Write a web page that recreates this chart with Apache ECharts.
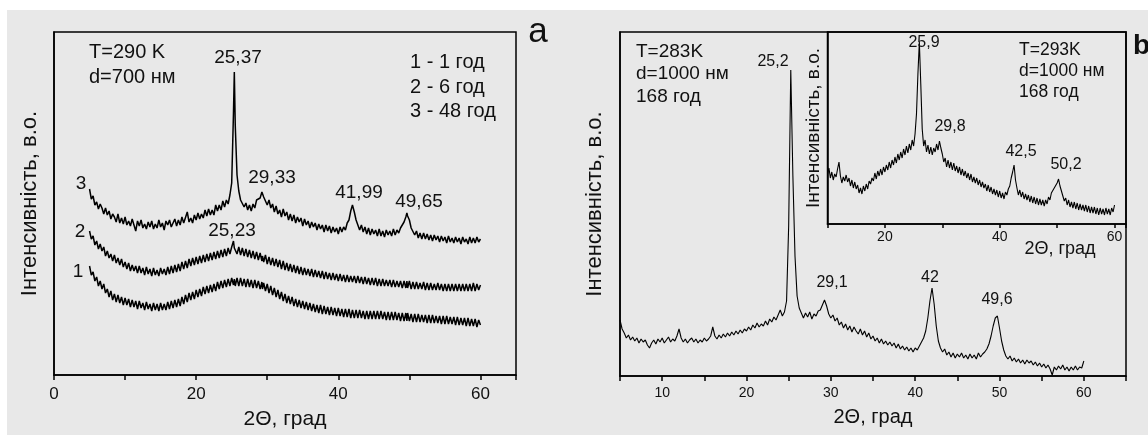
<!DOCTYPE html>
<html><head><meta charset="utf-8">
<script src="https://cdn.jsdelivr.net/npm/echarts@6/dist/echarts.min.js"></script>
<style>html,body{margin:0;padding:0;background:#fff;}#c{width:1148px;height:435px;}</style>
</head><body><div id="c"></div>
<script>
// ---------- panel a: three XRD curves (arbitrary intensity units) ----------
const aX = [5,5.25,5.5,5.75,6,6.25,6.5,6.75,7,7.25,7.5,7.75,8,8.25,8.5,8.75,9,9.25,9.5,9.75,10,10.25,10.5,10.75,11,11.25,11.5,11.75,12,12.25,12.5,12.75,13,13.25,13.5,13.75,14,14.25,14.5,14.75,15,15.25,15.5,15.75,16,16.25,16.5,16.75,17,17.25,17.5,17.75,18,18.25,18.5,18.75,19,19.25,19.5,19.75,20,20.25,20.5,20.75,21,21.25,21.5,21.75,22,22.25,22.5,22.75,23,23.25,23.5,23.75,24,24.25,24.5,24.75,25,25.25,
  25.37,
  25.5,25.75,26,26.25,26.5,26.75,27,27.25,27.5,27.75,28,28.25,28.5,28.75,29,29.25,
  29.33,
  29.5,29.75,30,30.25,30.5,30.75,31,31.25,31.5,31.75,32,32.25,32.5,32.75,33,33.25,33.5,33.75,34,34.25,34.5,34.75,35,35.25,35.5,35.75,36,36.25,36.5,36.75,37,37.25,37.5,37.75,38,38.25,38.5,38.75,39,39.25,39.5,39.75,40,40.25,40.5,40.75,41,41.25,41.5,41.75,
  41.99,
  42.25,42.5,42.75,43,43.25,43.5,43.75,44,44.25,44.5,44.75,45,45.25,45.5,45.75,46,46.25,46.5,46.75,47,47.25,47.5,47.75,48,48.25,48.5,48.75,49,49.25,49.5,
  49.65,
  49.75,50,50.25,50.5,50.75,51,51.25,51.5,51.75,52,52.25,52.5,52.75,53,53.25,53.5,53.75,54,54.25,54.5,54.75,55,55.25,55.5,55.75,56,56.25,56.5,56.75,57,57.25,57.5,57.75,58,58.25,58.5,58.75,59,59.25,59.5,59.75,60];
const aCurve1 = [109,100,103,94,98,89,94,86,91,82,86,78,84,75,81,73,80,72,78,70,77,70,76,68,75,68,74,66,74,67,72,65,73,66,71,64,72,65,71,64,72,65,71,65,73,66,74,67,75,68,76,69,78,71,80,73,82,75,83,76,85,78,86,79,88,81,89,82,90,83,91,84,93,86,94,87,95,88,96,89,97,90,
  96,
  89,97,89,97,89,96,88,96,88,95,87,95,87,94,86,93,
  86,
  92,84,91,82,89,80,87,78,85,76,83,74,81,72,79,71,78,69,76,68,75,67,74,66,73,65,72,64,71,63,70,62,70,61,69,61,68,60,68,60,67,59,67,59,66,58,66,58,66,57,
  65,
  57,65,57,65,57,64,56,64,56,64,56,64,56,64,56,64,56,63,55,63,55,63,55,63,55,62,54,62,54,62,
  54,
  62,54,61,53,61,53,61,53,60,53,60,52,60,52,60,52,59,52,59,51,59,51,59,51,58,51,58,50,58,50,57,50,57,49,57,49,56,49,56,48,55,50];
const aCurve2 = [144,136,139,130,134,126,131,124,128,119,124,117,121,114,120,112,117,110,116,108,113,106,112,104,110,104,109,102,109,102,107,100,108,101,106,99,107,100,105,99,107,101,106,100,108,101,109,102,110,103,111,104,113,106,114,107,116,109,117,110,118,111,119,112,120,113,121,114,122,115,123,116,124,117,125,118,126,119,127,121,128,134,
  127,
  128,121,128,120,127,119,126,118,125,117,124,116,123,115,122,114,
  119,
  113,120,111,118,110,117,109,116,108,115,106,114,105,112,104,111,103,110,102,109,101,108,100,107,100,106,99,106,98,105,98,104,97,104,96,103,96,102,95,102,95,101,94,101,94,100,93,100,93,99,
  93,
  99,92,99,92,98,91,98,91,97,90,97,90,97,89,96,89,96,89,95,89,95,88,95,88,94,88,94,87,94,87,
  94,
  87,94,86,93,86,93,86,92,86,93,85,92,85,92,85,91,85,92,85,91,84,91,84,91,84,91,84,91,84,91,84,91,84,91,84,91,84,92,84,91,85,90];
const aCurve3 = [186,176,179,170,173,166,171,167,161,167,160,164,156,161,158,153,161,152,157,151,158,150,154,149,156,150,144,154,149,155,147,151,146,153,148,154,146,151,147,155,148,152,145,154,150,155,148,150,156,149,155,150,158,152,151,163,153,157,152,160,155,162,156,161,157,165,159,166,160,165,160,170,164,170,165,174,168,175,171,180,192,262,
  303,
  250,200,184,175,177,168,172,165,170,164,171,167,175,173,177,183,
  181,
  178,179,170,175,167,171,163,169,161,165,158,166,159,163,155,161,154,160,152,158,153,157,149,156,150,154,147,153,148,152,145,151,146,150,143,150,144,149,142,148,143,147,141,148,143,148,145,152,155,164,
  170,
  163,155,153,145,150,143,148,141,147,140,146,141,145,139,146,139,144,138,145,140,144,139,146,140,145,142,147,146,153,158,
  162,
  159,155,147,146,140,144,137,142,136,142,136,141,135,140,134,140,135,139,133,139,134,138,132,139,133,137,132,138,133,137,131,138,133,136,131,138,132,137,132,138,133,136];
const aTickLabels = [0,20,40,60];
const aCurveNames = ['1','2','3'];
const aPeaks = ['25,37','29,33','41,99','49,65','25,23'];
const aInfo = ['T=290 K','d=700 нм'];
const aLegend = ['1 - 1 год','2 - 6 год','3 - 48 год'];

// ---------- panel b: main curve ----------
const bX = [5,5.25,5.5,5.75,6,6.25,6.5,6.75,7,7.25,7.5,7.75,8,8.25,8.5,8.75,9,9.25,9.5,9.75,10,10.25,10.5,10.75,11,11.25,11.5,11.75,12,12.25,12.5,12.75,13,13.25,13.5,13.75,14,14.25,14.5,14.75,15,15.25,15.5,15.75,16,16.25,16.5,16.75,17,17.25,17.5,17.75,18,18.25,18.5,18.75,19,19.25,19.5,19.75,20,20.25,20.5,20.75,21,21.25,21.5,21.75,22,22.25,22.5,22.75,23,23.25,23.5,23.75,24,24.25,24.5,24.75,25,25.25,25.5,25.75,26,26.25,26.5,26.75,27,27.25,27.5,27.75,28,28.25,28.5,28.75,29,29.25,29.5,29.75,30,30.25,30.5,30.75,31,31.25,31.5,31.75,32,32.25,32.5,32.75,33,33.25,33.5,33.75,34,34.25,34.5,34.75,35,35.25,35.5,35.75,36,36.25,36.5,36.75,37,37.25,37.5,37.75,38,38.25,38.5,38.75,39,39.25,39.5,39.75,40,40.25,40.5,40.75,41,41.25,41.5,41.75,42,42.25,42.5,42.75,43,43.25,43.5,43.75,44,44.25,44.5,44.75,45,45.25,45.5,45.75,46,46.25,46.5,46.75,47,47.25,47.5,47.75,48,48.25,48.5,48.75,49,49.25,49.5,49.75,50,50.25,50.5,50.75,51,51.25,51.5,51.75,52,52.25,52.5,52.75,53,53.25,53.5,53.75,54,54.25,54.5,54.75,55,55.25,55.5,55.75,56,56.25,56.5,56.75,57,57.25,57.5,57.75,58,58.25,58.5,58.75,59,59.25,59.5,59.75,60];
const bY = [56,47,43,38, 41,36,39,35, 38,33,37,34, 36,31,28,33, 36,32,37,34, 38,33,36,39, 34,37,35,40, 47,38,34,37, 33,36,38,34, 37,33,36,34,
  38,35,37,40, 49,40,37,41, 38,42,39,43, 40,44,41,45, 42,46,43,47, 45,49,46,51, 48,53,49,52, 50,55,51,57, 54,59,56,61, 66,60,64,75,
  150,306,200,120, 80,68,63,58, 63,59,64,57, 62,60,65,66, 71,76,70,62, 58,61,55,58, 51,54,48,52, 46,50,44,49, 45,42,47,41, 45,39,43,37,
  40,35,38,33, 37,32,35,31, 34,30,33,28, 32,27,30,26, 29,25,28,24, 28,26,30,34, 38,45,58,75, 88,72,50,35, 28,24,27,21, 24,19,23,18,
  22,19,23,18, 21,17,22,18, 21,17,23,19, 22,24,27,32, 40,50,58,60, 48,35,26,20, 17,20,15,18, 14,17,13,16, 12,16,13,15, 11,14,10,13,
  9,12,8,11, 7,1,9,6, 10,7,11,6, 9,5,9,6, 10,6,9,8, 15];
const bTickLabels = [10,20,30,40,50,60];
const bPeaks = ['25,2','29,1','42','49,6'];
const bInfo = ['T=283K','d=1000 нм','168 год'];

// ---------- panel b: inset ----------
const insetX = [10,10.25,10.5,10.75,11,11.25,11.5,11.75,12,12.25,12.5,12.75,13,13.25,13.5,13.75,14,14.25,14.5,14.75,15,15.25,15.5,15.75,16,16.25,16.5,16.75,17,17.25,17.5,17.75,18,18.25,18.5,18.75,19,19.25,19.5,19.75,20,20.25,20.5,20.75,21,21.25,21.5,21.75,22,22.25,22.5,22.75,23,23.25,23.5,23.75,24,24.25,24.5,24.75,25,25.25,25.5,25.75,26,26.25,26.5,26.75,27,27.25,27.5,27.75,28,28.25,28.5,28.75,29,29.25,29.5,29.75,30,30.25,30.5,30.75,31,31.25,31.5,31.75,32,32.25,32.5,32.75,33,33.25,33.5,33.75,34,34.25,34.5,34.75,35,35.25,35.5,35.75,36,36.25,36.5,36.75,37,37.25,37.5,37.75,38,38.25,38.5,38.75,39,39.25,39.5,39.75,40,40.25,40.5,40.75,41,41.25,41.5,41.75,42,42.25,42.5,42.75,43,43.25,43.5,43.75,44,44.25,44.5,44.75,45,45.25,45.5,45.75,46,46.25,46.5,46.75,47,47.25,47.5,47.75,48,48.25,48.5,48.75,49,49.25,49.5,49.75,50,50.25,50.5,50.75,51,51.25,51.5,51.75,52,52.25,52.5,52.75,53,53.25,53.5,53.75,54,54.25,54.5,54.75,55,55.25,55.5,55.75,56,56.25,56.5,56.75,57,57.25,57.5,57.75,58,58.25,58.5,58.75,59,59.25,59.5,59.75,60];
const insetY = [50,56,46,52, 44,50,47,55, 62,48,41,47, 43,49,42,46, 38,44,36,42, 35,39,31,36, 30,38,33,40, 35,43,40,46, 43,51,45,53, 48,55,49,57,
  52,59,54,62, 56,64,59,67, 61,70,64,72, 66,75,69,78, 71,80,74,84, 78,90,110,150, 182,140,95,78, 84,72,79,70, 77,69,76,72, 80,74,83,76,
  70,62,66,57, 64,56,62,54, 61,53,58,51, 57,49,55,48, 53,46,51,44, 50,42,47,41, 46,39,44,37, 42,36,40,33, 39,32,37,30, 35,29,34,27,
  33,26,31,25, 32,29,35,38, 46,52,59,44, 36,29,34,27, 32,25,30,24, 29,22,28,21, 27,20,26,19, 25,19,24,18, 24,20,27,24, 31,29,36,34,
  41,45,38,33, 28,23,26,19, 24,17,22,16, 22,15,21,14, 20,14,19,13, 19,12,18,11, 17,11,17,10, 16,9,16,10, 15,9,16,10, 15,9,16,12, 19];
const insetTickLabels = [20,40,60];
const insetPeaks = ['25,9','29,8','42,5','50,2'];
const insetInfo = ['T=293K','d=1000 нм','168 год'];

const xTitle = '2Θ, град';
const yTitle = 'Інтенсивність, в.о.';

// ---------- build ----------
const FONT = "'Liberation Sans', Arial, Helvetica, sans-serif";
const INK = '#111';
const pair = (xs, ys) => xs.map((x, i) => [x, ys[i]]);

function T(x, y, text, size, align, weight) {
  return { type: 'text', x: x, y: y, z: 50,
    style: { text: text, font: (weight || 'normal') + ' ' + size + 'px ' + FONT, fill: INK,
      textAlign: align || 'left', textVerticalAlign: 'middle' } };
}
function xAx(grid, min, max, interval, labels, fontSize, margin, tickLen, name, nameGap, nameSize) {
  return { type: 'value', gridIndex: grid, min: min, max: max, interval: interval,
    axisLine: { show: true, lineStyle: { color: '#000', width: 1.5 } },
    axisTick: { show: true, inside: false, length: tickLen, lineStyle: { color: '#000', width: 1.5 } },
    splitLine: { show: false },
    axisLabel: { show: true, margin: margin, color: INK, fontSize: fontSize, fontFamily: FONT,
      showMinLabel: true, showMaxLabel: true,
      formatter: v => labels.indexOf(v) >= 0 ? String(v) : '' },
    name: name, nameLocation: 'middle', nameGap: nameGap,
    nameTextStyle: { color: INK, fontSize: nameSize, fontFamily: FONT } };
}
function yAx(grid, max, name, nameGap, nameSize) {
  return { type: 'value', gridIndex: grid, min: 0, max: max,
    axisLine: { show: true, lineStyle: { color: '#000', width: 1.5 } },
    axisTick: { show: false }, axisLabel: { show: false }, splitLine: { show: false },
    name: name, nameLocation: 'middle', nameGap: nameGap, nameRotate: 90,
    nameTextStyle: { color: INK, fontSize: nameSize, fontFamily: FONT } };
}
function line(xi, data, w) {
  return { type: 'line', xAxisIndex: xi, yAxisIndex: xi, data: data, showSymbol: false,
    symbol: 'none', animation: false, silent: true,
    lineStyle: { color: '#000', width: w } };
}
const gridStyle = { show: true, borderColor: '#000', borderWidth: 1.5, backgroundColor: 'transparent' };

const graphics = [
  { type: 'rect', z: -100, shape: { x: 7, y: 10, width: 1141, height: 425 }, style: { fill: '#e8e8e8' } },
  // panel a
  T(89, 52, aInfo[0], 20), T(89, 77, aInfo[1], 20),
  T(410, 62, aLegend[0], 20), T(410, 87, aLegend[1], 20), T(410, 111, aLegend[2], 20),
  T(238, 58, aPeaks[0], 19, 'center'), T(272, 178, aPeaks[1], 19, 'center'),
  T(359, 193, aPeaks[2], 19, 'center'), T(419, 202, aPeaks[3], 19, 'center'),
  T(232, 231, aPeaks[4], 19, 'center'),
  T(81, 184, aCurveNames[2], 19, 'center'), T(80, 232, aCurveNames[1], 19, 'center'),
  T(78, 272, aCurveNames[0], 19, 'center'),
  T(538, 32, 'a', 35, 'center'),
  // panel b main
  T(636, 52, bInfo[0], 19), T(636, 74, bInfo[1], 19), T(636, 97, bInfo[2], 19),
  T(773, 62, bPeaks[0], 16, 'center'), T(832, 283, bPeaks[1], 16, 'center'),
  T(930, 278, bPeaks[2], 16, 'center'), T(997, 300, bPeaks[3], 16, 'center'),
  T(1133, 46, 'b', 28, 'left', 'bold'),
  // inset
  T(924, 43, insetPeaks[0], 16, 'center'), T(950, 127, insetPeaks[1], 16, 'center'),
  T(1021, 152, insetPeaks[2], 16, 'center'), T(1066, 165, insetPeaks[3], 16, 'center'),
  T(1019, 50, insetInfo[0], 17.5), T(1019, 71, insetInfo[1], 17.5), T(1019, 92, insetInfo[2], 17.5),
  T(1060, 249, xTitle, 18, 'center')
];

const option = {
  backgroundColor: '#ffffff',
  animation: false,
  grid: [
    Object.assign({ left: 54, top: 32, width: 462, height: 343 }, gridStyle),
    Object.assign({ left: 620, top: 32, width: 506, height: 344 }, gridStyle),
    Object.assign({ left: 827.5, top: 32, width: 298.5, height: 192 }, gridStyle)
  ],
  xAxis: [
    xAx(0, 0, 65, 10, aTickLabels, 17, 11, 5, xTitle, 34, 21),
    xAx(1, 5, 65, 5, bTickLabels, 14, 10, 5, xTitle, 31, 20),
    xAx(2, 10, 62, 10, insetTickLabels, 14, 6, 4, '', 0, 1)
  ],
  yAxis: [
    yAx(0, 343, yTitle, 13, 22),
    yAx(1, 344, yTitle, 14, 22),
    yAx(2, 192, yTitle, 4, 19)
  ],
  series: [
    line(0, pair(aX, aCurve1), 1.5),
    line(0, pair(aX, aCurve2), 1.5),
    line(0, pair(aX, aCurve3), 1.5),
    line(1, pair(bX, bY), 1.1),
    line(2, pair(insetX, insetY), 1.1)
  ],
  graphic: graphics
};
const chart = echarts.init(document.getElementById('c'), null, { renderer: 'canvas' });
chart.setOption(option);
</script></body></html>
